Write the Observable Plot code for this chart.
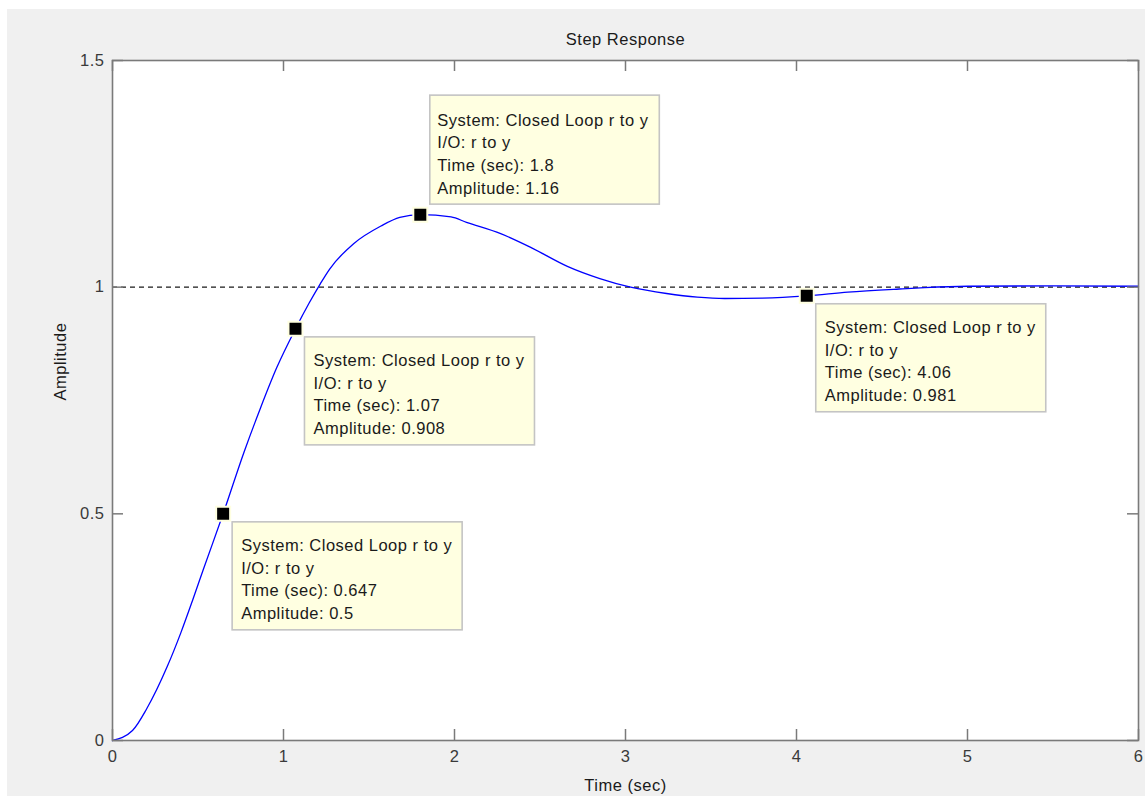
<!DOCTYPE html>
<html>
<head>
<meta charset="utf-8">
<script src="https://cdn.jsdelivr.net/npm/d3@7"></script>
<script src="https://cdn.jsdelivr.net/npm/@observablehq/plot@0.6"></script>
<style>
  html, body { margin: 0; padding: 0; background: #ffffff; }
  #chart { position: absolute; left: 7px; top: 9px; width: 1138px; height: 787px; background: #f0f0f0; }
</style>
</head>
<body>
<div id="chart"></div>
<script>
// ---- data ----
const time = [0, 0.117, 0.2, 0.32, 0.4, 0.47, 0.53, 0.647, 0.77, 0.865, 0.96, 1.07, 1.15, 1.216, 1.27, 1.41, 1.57, 1.68, 1.8, 1.98, 2.07, 2.27, 2.46, 2.66, 2.85, 3.03, 3.24, 3.42, 3.58, 3.8, 4.06, 4.3, 4.6, 4.75, 5.0, 5.5, 6.0];
const amplitude = [0, 0.022, 0.07, 0.163, 0.238, 0.311, 0.376, 0.5, 0.637, 0.733, 0.822, 0.908, 0.965, 1.008, 1.04, 1.096, 1.135, 1.154, 1.16, 1.155, 1.143, 1.118, 1.085, 1.046, 1.019, 1.0, 0.986, 0.978, 0.975, 0.976, 0.981, 0.989, 0.996, 0.999, 1.002, 1.003, 1.002];

const tipTime = [1.8, 1.07, 0.647, 4.06];
const tipAmplitude = [1.16, 0.908, 0.5, 0.981];
const tipTimeText = ["1.8", "1.07", "0.647", "4.06"];
const tipAmpText = ["1.16", "0.908", "0.5", "0.981"];
const tipPlacement = ["above", "below", "below", "below"];
const systemName = "Closed Loop r to y";
const ioName = "r to y";

const xTicks = [0, 1, 2, 3, 4, 5, 6];
const xTickLabels = ["0", "1", "2", "3", "4", "5", "6"];
const yTicks = [0, 0.5, 1, 1.5];
const yTickLabels = ["0", "0.5", "1", "1.5"];
const steadyState = [1];

const title = "Step Response";
const xLabel = "Time (sec)";
const yLabel = "Amplitude";

// ---- build tables ----
const curve = time.map((t, i) => ({t, a: amplitude[i]}));
const tips = tipTime.map((t, i) => ({
  t, a: tipAmplitude[i], place: tipPlacement[i],
  text: `System: ${systemName}\nI/O: ${ioName}\nTime (sec): ${tipTimeText[i]}\nAmplitude: ${tipAmpText[i]}`
}));
const tipsAbove = tips.filter(d => d.place === "above");
const tipsBelow = tips.filter(d => d.place === "below");

const W = 1138, H = 787;
const mL = 105, mR = 7, mT = 51, mB = 56;
const frameW = W - mL - mR, frameH = H - mT - mB;
const tickLen = 11;
const font = "'Liberation Sans', Arial, Helvetica, sans-serif";
const fs = 16.5;

const chart = Plot.plot({
  width: W, height: H,
  marginLeft: mL, marginRight: mR, marginTop: mT, marginBottom: mB,
  style: {background: "#f0f0f0", fontFamily: font, fontSize: fs + "px", letterSpacing: "0.5px", color: "#222", overflow: "visible"},
  x: {domain: [0, 6]},
  y: {domain: [0, 1.5]},
  marks: [
    Plot.frame({fill: "white", stroke: null}),
    Plot.ruleY(steadyState, {stroke: "#1a1a1a", strokeWidth: 1.2, strokeDasharray: "5,4"}),
    Plot.line(curve, {x: "t", y: "a", stroke: "#0000ff", strokeWidth: 1.3, curve: "monotone-x"}),
    // inward ticks on all four sides
    Plot.tickX(xTicks, {x: d => d, stroke: "#7a7a7a", strokeWidth: 1.5, insetTop: frameH - tickLen}),
    Plot.tickX(xTicks, {x: d => d, stroke: "#7a7a7a", strokeWidth: 1.5, insetBottom: frameH - tickLen}),
    Plot.tickY(yTicks, {y: d => d, stroke: "#7a7a7a", strokeWidth: 1.5, insetRight: frameW - tickLen}),
    Plot.tickY(yTicks, {y: d => d, stroke: "#7a7a7a", strokeWidth: 1.5, insetLeft: frameW - tickLen}),
    Plot.frame({stroke: "#7a7a7a", strokeWidth: 1.6}),
    Plot.axisX({ticks: xTicks, tickSize: 0, tickPadding: 10, label: null, color: "#3a3a3a", fontSize: fs,
                tickFormat: d => xTickLabels[xTicks.indexOf(d)]}),
    Plot.axisY({ticks: yTicks, tickSize: 0, tickPadding: 8, label: null, color: "#3a3a3a", fontSize: fs,
                tickFormat: d => yTickLabels[yTicks.indexOf(d)]}),
    // data tip boxes
    Plot.rect(tipsBelow, {x1: "t", x2: "t", y1: "a", y2: "a", fill: "#ffffe1", stroke: "#c4c4c4", strokeWidth: 1.6,
      insetLeft: 9.5, insetRight: -239.5, insetTop: 8.5, insetBottom: -116.5}),
    Plot.rect(tipsAbove, {x1: "t", x2: "t", y1: "a", y2: "a", fill: "#ffffe1", stroke: "#c4c4c4", strokeWidth: 1.6,
      insetLeft: 10, insetRight: -239.5, insetTop: -119, insetBottom: 10}),
    Plot.text(tipsBelow, {x: "t", y: "a", text: "text", textAnchor: "start", lineAnchor: "top",
      dx: 18, dy: 21, lineHeight: 1.375, fill: "#1a1a1a", fontSize: fs}),
    Plot.text(tipsAbove, {x: "t", y: "a", text: "text", textAnchor: "start", lineAnchor: "top",
      dx: 17, dy: -105, lineHeight: 1.375, fill: "#1a1a1a", fontSize: fs}),
    Plot.dot(tips, {x: "t", y: "a", symbol: "square", r: 7.9, fill: "black", stroke: "#ffffe1", strokeWidth: 2}),
    // title and axis labels
    Plot.text([title], {frameAnchor: "top", dy: -21, lineAnchor: "middle", text: d => d, fill: "#1a1a1a", fontSize: fs}),
    Plot.text([xLabel], {frameAnchor: "bottom", dy: 45, lineAnchor: "middle", text: d => d, fill: "#1a1a1a", fontSize: fs}),
    Plot.text([yLabel], {frameAnchor: "left", dx: -52, rotate: -90, lineAnchor: "middle", text: d => d, fill: "#1a1a1a", fontSize: fs})
  ]
});
document.getElementById("chart").appendChild(chart);
</script>
</body>
</html>
